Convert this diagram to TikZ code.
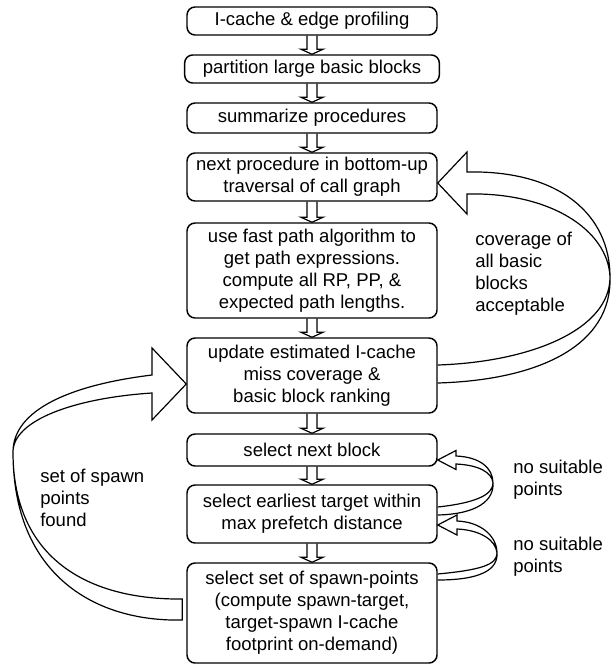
\documentclass[tikz,border=0pt]{standalone}
\usepackage{fontspec}
\setmainfont{Liberation Sans}
\usetikzlibrary{calc}

\begin{document}
\begin{tikzpicture}[x=0.75pt, y=-0.75pt,
    procbox/.style={draw, line width=1.1pt, rounded corners=6pt, align=center,
      minimum width=187.5pt, inner sep=2pt, font=\fontsize{13.9pt}{16.5pt}\selectfont},
    hollow/.style={line width=0.9pt, line join=miter},
    note/.style={align=left, anchor=west, inner sep=0pt, font=\fontsize{13.9pt}{16.5pt}\selectfont}]
    \useasboundingbox (0,0) rectangle (616,667);

    % flow boxes
    \node[procbox, minimum height=21pt] (prof) at (312,21) {I-cache \& edge profiling};
    \node[procbox, minimum height=21pt, minimum width=191pt] (part) at (312,69) {partition large basic blocks};
    \node[procbox, minimum height=22.5pt] (summ) at (312,118) {summarize procedures};
    \node[procbox, minimum height=36pt] (next) at (312,177) {next procedure in bottom-up\\traversal of call graph};
    \node[procbox, minimum height=71.25pt] (fast) at (312,270.5) {use fast path algorithm to\\get path expressions.\\compute all RP, PP, \&\\expected path lengths.};
    \node[procbox, minimum height=56.25pt] (upd) at (312,375.5) {update estimated I-cache\\miss coverage \&\\basic block ranking};
    \node[procbox, minimum height=24pt] (blk) at (312,450) {select next block};
    \node[procbox, minimum height=43.5pt] (tgt) at (312,514) {select earliest target within\\max prefetch distance};
    \node[procbox, minimum height=75pt] (spawn) at (312,613) {select set of spawn-points\\(compute spawn-target,\\target-spawn I-cache\\footprint on-demand)};

    % hollow arrows down the column
    \foreach \a/\b in {prof/part, part/summ, summ/next, next/fast, fast/upd, upd/blk, blk/tgt, tgt/spawn}
      \draw[hollow] ($(\a.south)+(-5,0)$) -- ($(\b.north)+(-5,-5)$) -- ($(\b.north)+(-11,-5)$) -- (\b.north)
        -- ($(\b.north)+(11,-5)$) -- ($(\b.north)+(5,-5)$) -- ($(\a.south)+(5,0)$);

    % loop back to next procedure
    \draw[hollow] ($(upd.east)+(0,-10.5)$) .. controls (530,362) and (610,330) .. (610,277)
      .. controls (610,215) and (560,170) .. (467,172) -- (467,152) -- ($(next.east)+(0,6)$)
      -- (467,214) -- (467,194) .. controls (550,192) and (608,230) .. (610,277)
      .. controls (612,345) and (540,380) .. ($(upd.east)+(0,7.5)$);

    % loop back to update
    \draw[hollow] ($(spawn.west)+(-4,-14)$) .. controls (90,600) and (13,560) .. (13,452)
      .. controls (13,410) and (70,385) .. (152,375) -- (152,348) -- ($(upd.west)+(0,8.5)$)
      -- (152,420) -- (152,393) .. controls (75,398) and (13,420) .. (13,452)
      .. controls (13,575) and (95,622) .. ($(spawn.west)+(-4,7)$) -- cycle;

    % small retry loops
    \draw[hollow] ($(tgt.east)+(0,-7)$) .. controls (475,503) and (493,495) .. (493,483)
      .. controls (493,468) and (480,457) .. (456,456) -- (456,450.5) -- ($(blk.east)+(0,10)$)
      -- (456,469.5) -- (456,464) .. controls (478,465) and (492,472) .. (493,483)
      .. controls (494,500) and (478,514) .. ($(tgt.east)+(0,1)$);
    \draw[hollow] ($(spawn.east)+(0,-39)$) .. controls (480,570) and (497,565) .. (497,553)
      .. controls (497,537) and (482,522) .. (457,521) -- (457,515) -- ($(tgt.east)+(0,11)$)
      -- (457,535) -- (457,529) .. controls (480,530) and (496,540) .. (497,553)
      .. controls (498,570) and (480,580) .. ($(spawn.east)+(0,-33)$);

    % labels
    \node[note] (cov) at (475,274) {coverage of\\all basic\\blocks\\acceptable};
    \node[note] (found) at (40,498) {set of spawn\\points\\found};
    \node[note] (nosuit1) at (513,480) {no suitable\\points};
    \node[note] (nosuit2) at (513,557) {no suitable\\points};
\end{tikzpicture}
\end{document}
